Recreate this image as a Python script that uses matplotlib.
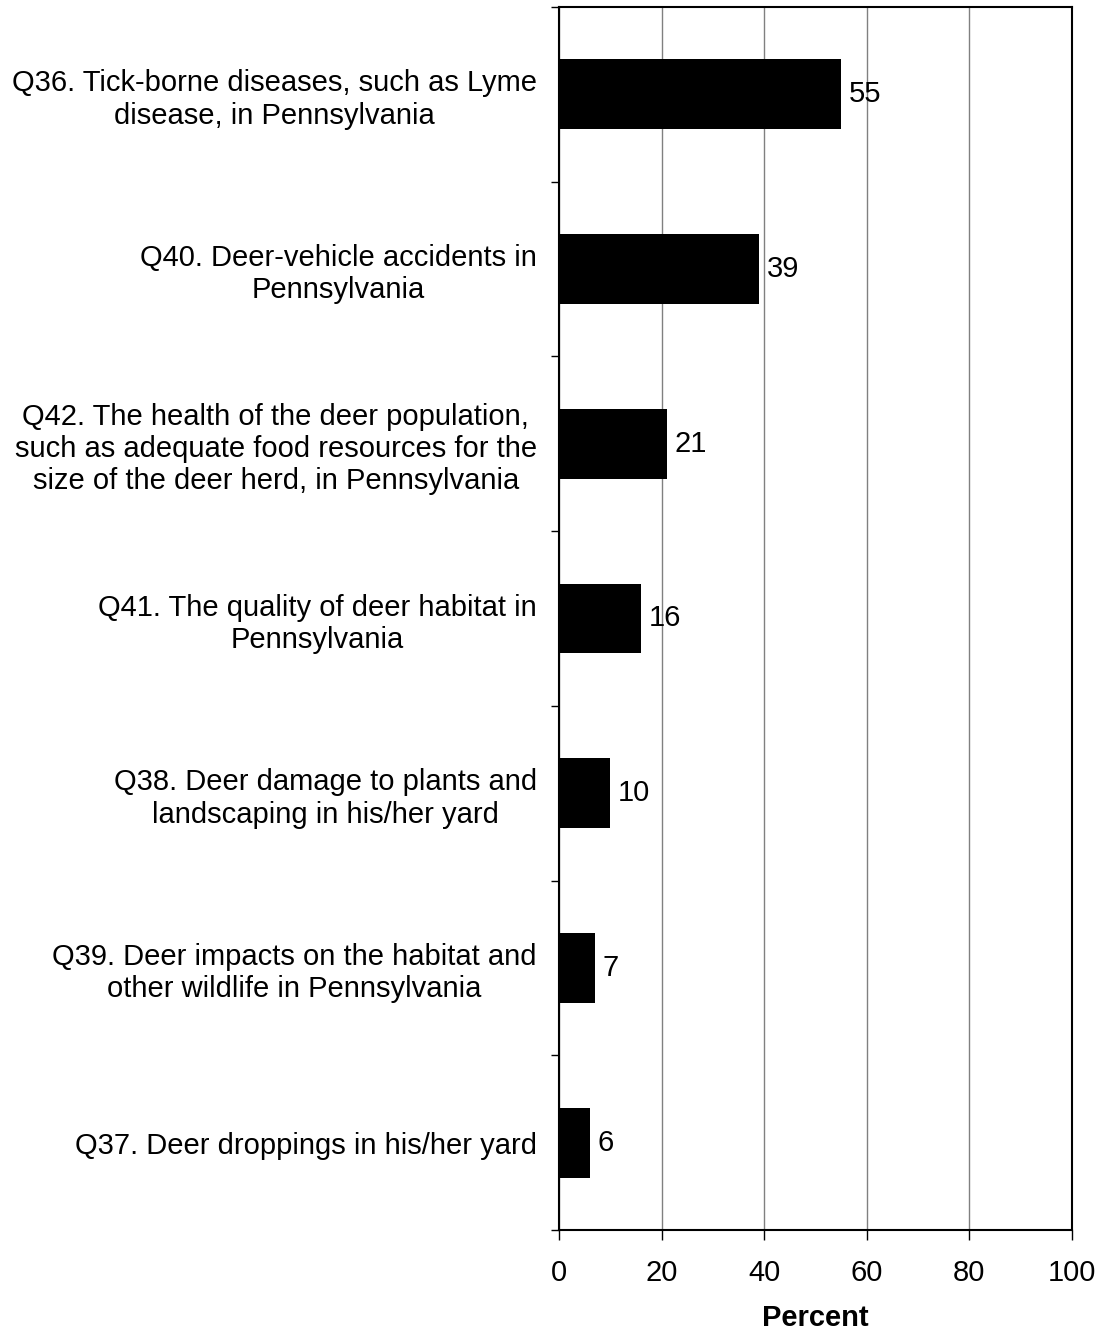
import matplotlib.pyplot as plt
import numpy as np

plt.rcParams['font.family'] = ['Liberation Sans', 'DejaVu Sans']

labels = [
    "Q36. Tick-borne diseases, such as Lyme\ndisease, in Pennsylvania",
    "Q40. Deer-vehicle accidents in\nPennsylvania",
    "Q42. The health of the deer population,\nsuch as adequate food resources for the\nsize of the deer herd, in Pennsylvania",
    "Q41. The quality of deer habitat in\nPennsylvania",
    "Q38. Deer damage to plants and\nlandscaping in his/her yard",
    "Q39. Deer impacts on the habitat and\nother wildlife in Pennsylvania",
    "Q37. Deer droppings in his/her yard",
]
values = [55, 39, 21, 16, 10, 7, 6]

fs = 21
fig = plt.figure(figsize=(11.01, 13.36), dpi=100)
ax = fig.add_axes([559 / 1101, 1 - 1230 / 1336, (1072 - 559) / 1101, (1230 - 7) / 1336])

n = len(values)
pos = np.arange(n)
ax.barh(pos, values, height=0.4, color='black', zorder=3)
for p, v in zip(pos, values):
    ax.text(v + 1.5, p, str(v), va='center', ha='left', fontsize=fs, zorder=4)

ax.set_ylim(n - 0.5, -0.5)
ax.set_xlim(0, 100)
ax.set_xticks([0, 20, 40, 60, 80, 100])
ax.tick_params(axis='x', labelsize=fs, length=7, width=1, direction='out', pad=14)
ax.set_yticks(pos)
ax.set_yticklabels(labels, fontsize=fs)
for t in ax.get_yticklabels():
    t.set_multialignment('center')
ax.tick_params(axis='y', which='major', length=0, pad=16)
ax.set_yticks(np.arange(n + 1) - 0.5, minor=True)
ax.tick_params(axis='y', which='minor', length=6, width=1, direction='out')

ax.xaxis.grid(True, color='#808080', linewidth=1, zorder=0)
for s in ax.spines.values():
    s.set_linewidth(1.5)
    s.set_color('black')

ax.set_xlabel('Percent', fontsize=fs, fontweight='bold', labelpad=12)

fig.savefig('out.png', dpi=100)
